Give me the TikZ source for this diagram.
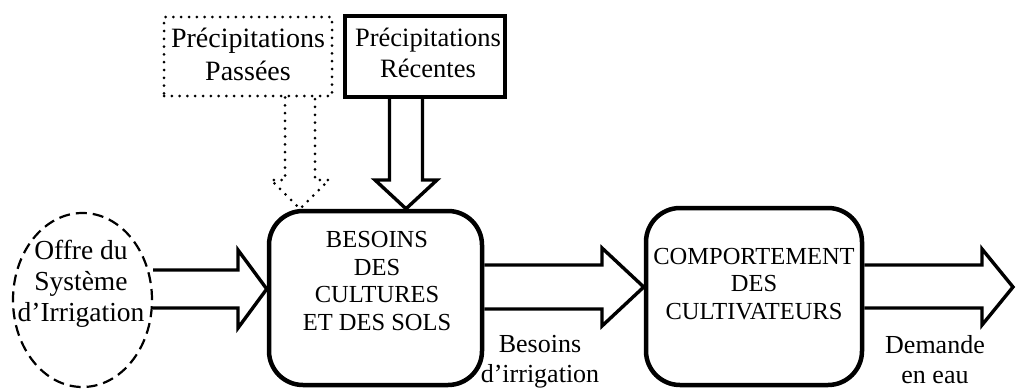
\documentclass[tikz,border=0pt]{standalone}
\usepackage{fontspec}
\setmainfont{Liberation Serif}
\usetikzlibrary{shapes.geometric}
\begin{document}
\begin{tikzpicture}[x=1pt,y=-1pt,
  mainbox/.style={draw, line width=4.5pt, rounded corners=34pt, inner sep=0pt},
  topbox/.style={draw, line width=3.2pt, inner sep=0pt},
  dotbox/.style={draw, line width=3pt, line cap=round, dash pattern=on 0pt off 7.8pt, inner sep=0pt},
  fatarrow/.style={draw, line width=3.4pt, line join=miter},
  dotarrow/.style={draw, line width=3pt, line cap=round, dash pattern=on 0pt off 7.8pt},
  dashell/.style={draw, ellipse, line width=2.2pt, dash pattern=on 11pt off 6pt, inner sep=0pt},
  capstxt/.style={align=center, font=\fontsize{24.5}{27.5}\selectfont, inner sep=0pt},
  lowtxt/.style={align=center, font=\fontsize{26}{30}\selectfont, inner sep=0pt},
  toptxt/.style={align=center, font=\fontsize{28}{33}\selectfont, inner sep=0pt}
]
\useasboundingbox (0,0) rectangle (1016,388);

% nodes
\node[dotbox, minimum width=168pt, minimum height=79pt] (pp) at (248,56.5) {};
\node[toptxt] (ppt) at (248,54) {Précipitations\\Passées};
\node[topbox, minimum width=160pt, minimum height=81pt] (pr) at (425,56.5) {};
\node[toptxt, font=\fontsize{26.5}{31}\selectfont] (prt) at (428,53) {Précipitations\\Récentes};

\node[dashell, minimum width=139pt, minimum height=174pt] (ell) at (82.5,300) {};
\node[lowtxt, font=\fontsize{27.5}{31}\selectfont] (ellt) at (81,284) {Offre du\\Système\\d’Irrigation};

\node[mainbox, minimum width=213pt, minimum height=174pt] (b1) at (375.5,298) {};
\node[capstxt] (b1t) at (377,281) {BESOINS\\DES\\CULTURES\\ET DES SOLS};

\node[mainbox, minimum width=216pt, minimum height=177pt] (b2) at (754,296.5) {};
\node[capstxt] (b2t) at (754,284) {COMPORTEMENT\\DES\\CULTIVATEURS};

\node[lowtxt] (l1) at (540,362) {Besoins\\d’irrigation};
\node[lowtxt] (l2) at (935,360) {Demande\\en eau};

\coordinate (out) at (1013,287);

% vertical arrows
\draw[dotarrow] (pp.south -| 285,0) -- (285,180) -- (271,180) -- (b1.north -| 300,0) -- (329,180) -- (315,180) -- (pp.south -| 315,0);
\draw[fatarrow] (pr.south -| 389.5,0) -- (389.5,180) -- (375,180) -- (b1.north -| 406,0) -- (437,180) -- (422.5,180) -- (pr.south -| 422.5,0);

% horizontal arrows
\draw[fatarrow] (ell.east |- 0,270) -- (238,270) -- (238,250) -- (b1.west |- 0,289) -- (238,328) -- (238,308) -- (ell.east |- 0,308);
\draw[fatarrow] (b1.east |- 0,265) -- (602,265) -- (602,248) -- (b2.west |- 0,287) -- (602,326) -- (602,309) -- (b1.east |- 0,309);
\draw[fatarrow] (b2.east |- 0,265) -- (982,265) -- (982,249) -- (out) -- (982,325) -- (982,308) -- (b2.east |- 0,308);
\end{tikzpicture}
\end{document}
